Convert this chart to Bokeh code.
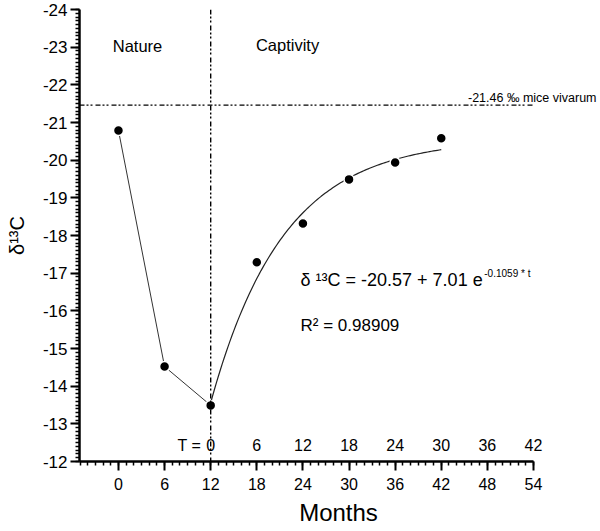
import numpy as np
from bokeh.plotting import figure
from bokeh.models import Range1d, FixedTicker, Span, Label, PrintfTickFormatter
from bokeh.core.properties import value
from bokeh.embed import file_html
from bokeh.resources import INLINE

# ---- data ----
months = [0, 6, 12, 18, 24, 30, 36, 42]
d13c = [-20.79, -14.52, -13.49, -17.29, -18.32, -19.49, -19.94, -20.58]
nature_months = [0, 6, 12]
nature_d13c = [-20.79, -14.52, -13.49]

# printed fit: d13C = A + B * exp(K * t), t = months since captivity (0..30)
fit_A = -20.57
fit_B = 7.01
fit_K = -0.1059
captivity_start = 12
fit_t_max = 30

vivarum_level = -21.46
x_ticks = [0, 6, 12, 18, 24, 30, 36, 42, 48, 54]
y_ticks = [-24, -23, -22, -21, -20, -19, -18, -17, -16, -15, -14, -13, -12]
t_labels = ["0", "6", "12", "18", "24", "30", "36", "42"]
t_values = [0, 6, 12, 18, 24, 30, 36, 42]

FONT = "Liberation Sans"
X0, X1 = -5.07, 62.33
AXIS_END = 54

p = figure(width=600, height=531, x_range=Range1d(X0, X1), y_range=Range1d(-12, -24),
           output_backend="svg", toolbar_location=None,
           min_border_left=79, min_border_right=3, min_border_top=9, min_border_bottom=70)
p.outline_line_color = None
p.xgrid.visible = False
p.ygrid.visible = False
p.background_fill_color = "white"

# axes
p.xaxis.ticker = FixedTicker(ticks=x_ticks, minor_ticks=list(range(-5, AXIS_END + 1)))
p.xaxis.bounds = (X0, AXIS_END)
p.yaxis.ticker = FixedTicker(ticks=y_ticks, minor_ticks=[round(-24 + 0.1 * i, 1) for i in range(121)])
p.yaxis.formatter = PrintfTickFormatter(format="%d")
for ax in (p.xaxis[0], p.yaxis[0]):
    ax.axis_line_width = 2.5
    ax.axis_line_color = "black"
    ax.major_tick_line_width = 2
    ax.minor_tick_line_width = 1.5
    ax.major_tick_out = 9
    ax.major_tick_in = 0
    ax.minor_tick_out = 4
    ax.minor_tick_in = 0
    ax.major_label_text_font = FONT
    ax.major_label_text_font_size = "16px"
    ax.major_label_text_color = "black"
    ax.axis_label_text_font = FONT
    ax.axis_label_text_font_style = "normal"
    ax.axis_label_text_color = "black"
p.yaxis.major_label_text_font_size = "17px"
p.xaxis.major_label_standoff = 7
p.xaxis.axis_label = "Months"
p.xaxis.axis_label_text_font_size = "24px"
p.xaxis.axis_label_standoff = 6
p.yaxis.axis_label = "δ¹³C"
p.yaxis.axis_label_text_font_size = "20px"
p.yaxis.axis_label_standoff = 12
p.yaxis.major_label_standoff = 3

# reference lines
dash = "5 2 2 2 2 3"
p.segment(x0=[X0], y0=[vivarum_level], x1=[AXIS_END], y1=[vivarum_level], line_color="black",
          line_width=1.4, line_dash=dash)
p.add_layout(Span(location=captivity_start, dimension="height", line_color="black",
                  line_width=1.4, line_dash=dash))

# nature segment
p.line(nature_months, nature_d13c, line_color="#333333", line_width=1)

# fit curve from printed equation
t = np.linspace(0, fit_t_max, 120)
p.line(captivity_start + t, fit_A + fit_B * np.exp(fit_K * t), line_color="#222222", line_width=1.2)

# points
p.scatter(months, d13c, size=10, fill_color="black", line_color="white", line_width=1.5)

# texts
p.text(x=[captivity_start + v for v in t_values], y=[-12.43] * len(t_values), text=t_labels,
       text_font=value(FONT), text_font_size="16px",
       text_align="center", text_baseline="middle", text_color="black")
p.add_layout(Label(x=10.75, y=-12.43, text="T =", text_font=FONT, text_font_size="16px",
                   text_align="right", text_baseline="middle", text_color="black"))
p.add_layout(Label(x=2.48, y=-23.04, text="Nature", text_font=FONT, text_font_size="16.5px",
                   text_align="center", text_baseline="middle", text_color="black"))
p.add_layout(Label(x=22.0, y=-23.07, text="Captivity", text_font=FONT, text_font_size="16.5px",
                   text_align="center", text_baseline="middle", text_color="black"))
p.add_layout(Label(x=62.2, y=-21.66, text="-21.46 ‰ mice vivarum", text_font=FONT,
                   text_font_size="12.5px", text_align="right", text_baseline="middle", text_color="black"))
p.add_layout(Label(x=23.69, y=-16.81, text="δ ¹³C = -20.57 + 7.01 e", text_font=FONT,
                   text_font_size="18px", text_align="left", text_baseline="middle", text_color="black"))
p.add_layout(Label(x=47.6, y=-16.99, text="-0.1059 * t", text_font=FONT,
                   text_font_size="10px", text_align="left", text_baseline="middle", text_color="black"))
p.add_layout(Label(x=23.69, y=-15.61, text="R² = 0.98909", text_font=FONT,
                   text_font_size="17px", text_align="left", text_baseline="middle", text_color="black"))

open("out.html", "w").write(file_html(p, INLINE))
